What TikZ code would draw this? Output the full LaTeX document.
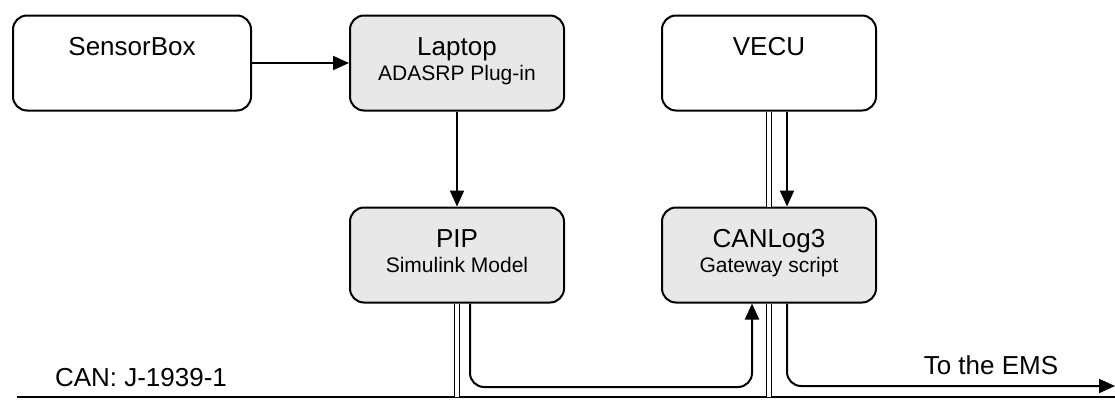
\documentclass[tikz,border=0pt]{standalone}
\usepackage{fontspec}
\setmainfont{Liberation Sans}
\usetikzlibrary{arrows.meta}
\definecolor{boxgray}{rgb}{0.91, 0.91, 0.91}
\tikzstyle{unit}=[draw, rounded corners=14pt, line width=2pt, minimum height=95pt, inner sep=0pt]
\tikzstyle{title}=[font=\fontsize{26}{30}\selectfont, inner sep=0pt, anchor=base]
\tikzstyle{sub}=[font=\fontsize{21}{25}\selectfont, inner sep=0pt, anchor=base]
\tikzstyle{link}=[line width=2pt, -{Triangle[length=16pt,width=14pt]}]
\tikzstyle{wire}=[line width=1.5pt, double distance=3.4pt]
\tikzstyle{bus}=[line width=2.8pt]

\begin{document}
\begin{tikzpicture}[x=1pt,y=-1pt]
\useasboundingbox (0,0) rectangle (1115,399);
\node[unit, minimum width=238pt] (sensor) at (132,63) {};
\node[unit, minimum width=214pt, fill=boxgray] (laptop) at (457,63) {};
\node[unit, minimum width=214pt] (vecu) at (769,63) {};
\node[unit, minimum width=214pt, fill=boxgray] (pip) at (457,255) {};
\node[unit, minimum width=214pt, fill=boxgray] (canlog) at (769,255) {};
\node[title] (sensorT) at (132,55) {SensorBox};
\node[title] (laptopT) at (457,55) {Laptop};
\node[sub] (laptopS) at (457,80) {ADASRP Plug-in};
\node[title] (vecuT) at (769,55) {VECU};
\node[title] (pipT) at (457,247) {PIP};
\node[sub] (pipS) at (457,272) {Simulink Model};
\node[title] (canlogT) at (769,247) {CANLog3};
\node[sub] (canlogS) at (769,272) {Gateway script};
\node[title] (canT) at (141,386) {CAN: J-1939-1};
\node[title] (emsT) at (991,374) {To the EMS};
\coordinate (busL) at (17,397);
\coordinate (busR) at (1115,397);
\coordinate (ems) at (1115,386);
\draw[link] (sensor) -- (laptop);
\draw[link] (laptop) -- (pip);
\draw[wire] (vecu) -- (canlog);
\draw[link] ([xshift=18pt]vecu.south) -- ([xshift=18pt]canlog.north);
\draw[bus] (busL) -- (busR);
\draw[wire] (pip) -- (pip |- busL);
\draw[wire] (canlog) -- (canlog |- busL);
\draw[link, rounded corners=14pt] ([xshift=13pt]pip.south) |- (752,387) -- ([xshift=-17pt]canlog.south);
\draw[link, rounded corners=14pt] ([xshift=18pt]canlog.south) |- (ems);
%\draw[wire] (vecu) -- (busR);
\end{tikzpicture}
\end{document}
